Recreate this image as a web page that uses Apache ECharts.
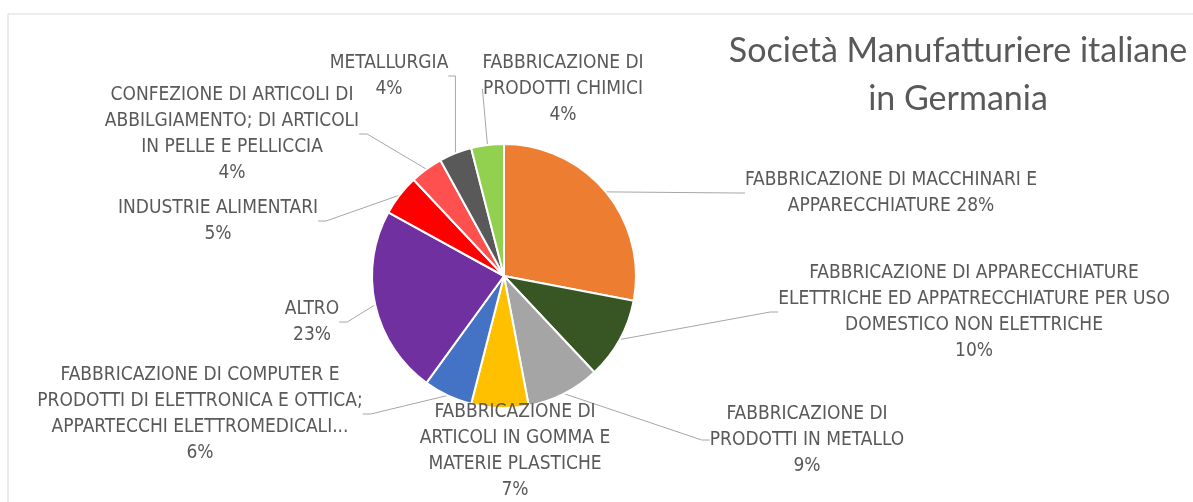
<!DOCTYPE html>
<html>
<head>
<meta charset="utf-8">
<script src="https://cdn.jsdelivr.net/npm/echarts@6/dist/echarts.min.js"></script>
<style>
  html, body { margin: 0; padding: 0; background: #fff; }
  #main { width: 1193px; height: 502px; }
</style>
</head>
<body>
<div id="main"></div>
<script>
// categorie (ordine orario dalle ore 12)
var categories = [
  'FABBRICAZIONE DI MACCHINARI E\nAPPARECCHIATURE',
  'FABBRICAZIONE DI APPARECCHIATURE\nELETTRICHE ED APPATRECCHIATURE PER USO\nDOMESTICO NON ELETTRICHE',
  'FABBRICAZIONE DI\nPRODOTTI IN METALLO',
  'FABBRICAZIONE DI\nARTICOLI IN GOMMA E\nMATERIE PLASTICHE',
  'FABBRICAZIONE DI COMPUTER E\nPRODOTTI DI ELETTRONICA E OTTICA;\nAPPARTECCHI ELETTROMEDICALI...',
  'ALTRO',
  'INDUSTRIE ALIMENTARI',
  'CONFEZIONE DI ARTICOLI DI\nABBILGIAMENTO; DI ARTICOLI\nIN PELLE E PELLICCIA',
  'METALLURGIA',
  'FABBRICAZIONE DI\nPRODOTTI CHIMICI'
];
// quote percentuali
var shares = [28, 10, 9, 7, 6, 23, 5, 4, 4, 4];

var colors = ['#ED7D31', '#375623', '#A5A5A5', '#FFC000', '#4472C4',
              '#7030A0', '#FF0000', '#FF5050', '#595959', '#92D050'];

// centro delle etichette (posizione scelta come in Excel)
var labelPos = [
  [891, 193], [974, 312], [807, 440], [515, 451], [200, 414],
  [312, 322], [218, 221], [232, 134], [389, 76], [563, 89]
];

var chart = echarts.init(document.getElementById('main'));

var option = {
  title: {
    text: 'Società Manufatturiere italiane\nin Germania',
    left: 953,
    top: 22,
    textAlign: 'center',
    textStyle: {
      fontFamily: 'Lato',
      fontSize: 34,
      fontWeight: 'normal',
      color: '#595959',
      lineHeight: 48
    }
  },
  graphic: [{
    type: 'rect',
    shape: { x: 8, y: 14, width: 1300, height: 600 },
    style: { fill: 'none', stroke: '#d9d9d9', lineWidth: 1 },
    silent: true
  }],
  series: [{
    type: 'pie',
    center: [504, 276],
    radius: 132,
    startAngle: 90,
    clockwise: true,
    animation: false,
    data: categories.map(function (c, i) {
      return { name: c, value: shares[i], itemStyle: { color: colors[i] } };
    }),
    itemStyle: { borderColor: '#fff', borderWidth: 2 },
    label: {
      show: true,
      formatter: function (p) {
        return p.name + (p.dataIndex === 0 ? ' ' : '\n') + p.value + '%';
      },
      fontFamily: 'Liberation Sans Narrow, DejaVu Sans Condensed, Lato',
      fontSize: 19,
      lineHeight: 26,
      color: '#595959',
      align: 'center'
    },
    labelLine: {
      show: true,
      length: 20,
      length2: 8,
      lineStyle: { color: '#a6a6a6', width: 1 }
    },
    labelLayout: function (params) {
      var p = labelPos[params.dataIndex];
      return { x: p[0], y: p[1], align: 'center', verticalAlign: 'middle' };
    }
  }]
};

chart.setOption(option);
</script>
</body>
</html>
